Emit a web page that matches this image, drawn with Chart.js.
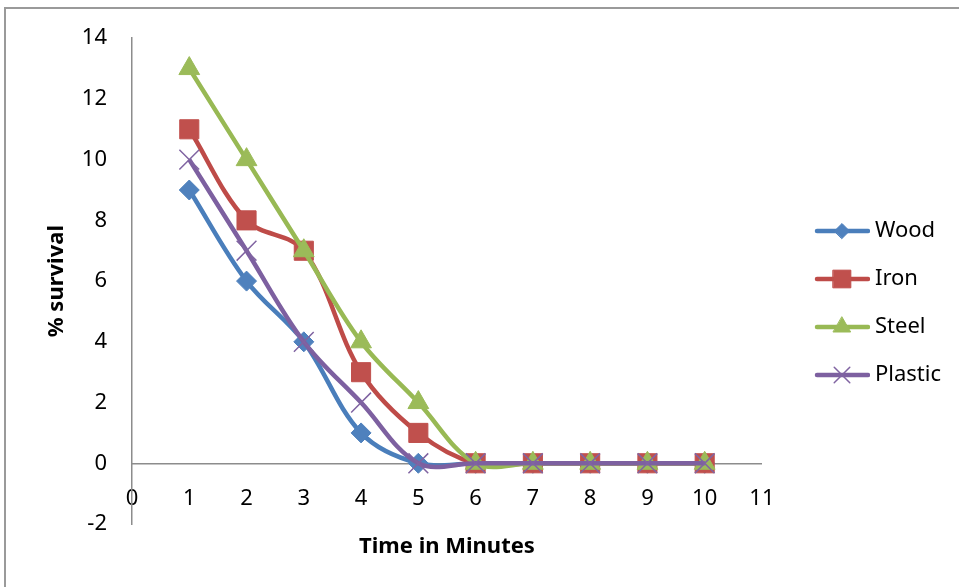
<!DOCTYPE html>
<html>
<head>
<meta charset="utf-8">
<script src="https://cdn.jsdelivr.net/npm/chart.js@4.4.0/dist/chart.umd.min.js"></script>
<style>
  html, body { margin: 0; padding: 0; background: #fff; overflow: hidden; }
  #frame { position: absolute; left: 4px; top: 7px; width: 1000px; height: 1000px; border: 2px solid #9a9a9a; }
  #wrap { position: absolute; left: 0; top: 0; width: 959px; height: 587px; }
</style>
</head>
<body>
<div id="frame"></div>
<div id="wrap"><canvas id="myChart"></canvas></div>
<script>
var minutes = [1, 2, 3, 4, 5, 6, 7, 8, 9, 10];
var wood    = [9, 6, 4, 1, 0, 0, 0, 0, 0, 0];
var iron    = [11, 8, 7, 3, 1, 0, 0, 0, 0, 0];
var steel   = [13, 10, 7, 4, 2, 0, 0, 0, 0, 0];
var plastic = [10, 7, 4, 2, 0, 0, 0, 0, 0, 0];
var seriesNames = ['Wood', 'Iron', 'Steel', 'Plastic'];

function pts(vals) {
  return minutes.map(function (m, i) { return {x: m, y: vals[i]}; });
}

// legend sample: line with marker, drawn to a small canvas
function legendSample(line, fill, style, radius, bw) {
  var c = document.createElement('canvas');
  c.width = 88; c.height = 24;
  var ctx = c.getContext('2d');
  ctx.strokeStyle = line;
  ctx.lineWidth = 4.5;
  ctx.lineCap = 'round';
  ctx.beginPath();
  ctx.moveTo(35, 12);
  ctx.lineTo(86, 12);
  ctx.stroke();
  ctx.fillStyle = fill;
  ctx.strokeStyle = fill;
  ctx.lineWidth = bw;
  Chart.helpers.drawPoint(ctx, {pointStyle: style, radius: radius, rotation: 0, borderWidth: bw}, 60, 12);
  return c;
}

var samples = [
  legendSample('#4A7EBB', '#4F81BD', 'rectRot', 7.5, 1),
  legendSample('#BE4B48', '#C0504D', 'rect', 12.5, 1),
  legendSample('#98B954', '#9BBB59', 'triangle', 10, 1),
  legendSample('#7D60A0', '#8064A2', 'crossRot', 11, 1.5)
];

const config = {
  type: 'line',
  data: {
    datasets: [{
      label: seriesNames[0],
      data: pts(wood),
      borderColor: '#4A7EBB',
      backgroundColor: '#4F81BD',
      pointStyle: 'rectRot', pointRadius: 10, pointBorderWidth: 1,
      pointBorderColor: '#4F81BD',
      order: 4
    }, {
      label: seriesNames[1],
      data: pts(iron),
      borderColor: '#BE4B48',
      backgroundColor: '#C0504D',
      pointStyle: 'rect', pointRadius: 13.5, pointBorderWidth: 1,
      pointBorderColor: '#C0504D',
      order: 3
    }, {
      label: seriesNames[2],
      data: pts(steel),
      borderColor: '#98B954',
      backgroundColor: '#9BBB59',
      pointStyle: 'triangle', pointRadius: 12, pointBorderWidth: 1,
      pointBorderColor: '#9BBB59',
      order: 2
    }, {
      label: seriesNames[3],
      data: pts(plastic),
      borderColor: '#7D60A0',
      backgroundColor: '#8064A2',
      pointStyle: 'crossRot', pointRadius: 14, pointBorderWidth: 1.5,
      pointBorderColor: '#8064A2',
      order: 1
    }]
  },
  options: {
    responsive: true,
    maintainAspectRatio: false,
    animation: false,
    layout: { padding: { top: 38, bottom: 63, left: 0, right: 8 } },
    elements: {
      line: { borderWidth: 4.5, tension: 0.35, fill: false },
      point: { hoverRadius: 10 }
    },
    scales: {
      x: {
        type: 'linear',
        position: { y: 0 },
        min: 0, max: 11,
        grid: { display: false, drawTicks: false },
        border: { display: true, color: '#8c8c8c', width: 1.5 },
        ticks: { stepSize: 1, padding: 22, color: '#000', font: { family: 'Noto Sans', size: 22 } },
        title: { display: true, text: 'Time in Minutes', color: '#000', padding: { top: 0, bottom: 0 },
                 font: { family: 'Noto Sans', size: 22, weight: 'bold' } }
      },
      y: {
        min: -2, max: 14,
        grid: { display: false, drawTicks: false },
        border: { display: true, color: '#8c8c8c', width: 1.5 },
        ticks: { stepSize: 2, padding: 25, color: '#000', font: { family: 'Noto Sans', size: 22 } },
        title: { display: true, text: '% survival', color: '#000', padding: { top: 44, bottom: 0 },
                 font: { family: 'Noto Sans', size: 22, weight: 'bold' } },
        afterFit: function (scale) { scale.width = 132; }
      }
    },
    plugins: {
      legend: {
        position: 'right',
        title: { display: true, text: '', padding: { top: 16, bottom: 16 }, font: { size: 10 } },
        labels: {
          usePointStyle: true,
          pointStyleWidth: 76,
          padding: 26,
          color: '#000',
          font: { family: 'Noto Sans', size: 22 },
          generateLabels: function (chart) {
            return chart.data.datasets.map(function (ds, i) {
              return { text: ds.label, pointStyle: samples[i], datasetIndex: i, fontColor: '#000',
                       lineWidth: 0, strokeStyle: 'transparent', fillStyle: 'transparent', hidden: false };
            });
          }
        }
      },
      tooltip: { enabled: false }
    }
  }
};

var myChart = new Chart(document.getElementById('myChart'), config);
</script>
</body>
</html>
